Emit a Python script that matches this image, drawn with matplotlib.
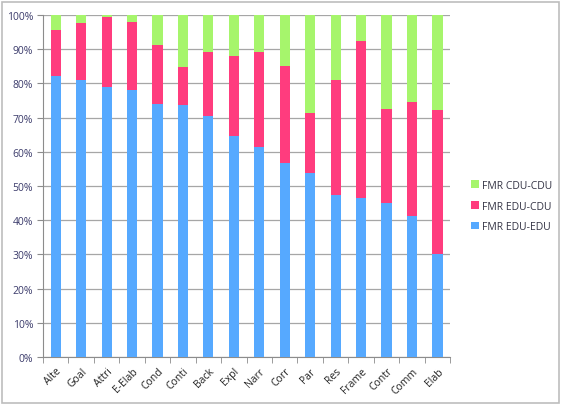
import matplotlib
matplotlib.use("Agg")
import matplotlib.pyplot as plt
import numpy as np
from matplotlib.patches import Rectangle

categories = ["Alte", "Goal", "Attri", "E-Elab", "Cond", "Conti", "Back", "Expl",
              "Narr", "Corr", "Par", "Res", "Frame", "Contr", "Comm", "Elab"]
edu_edu = [82, 81, 79, 78, 74, 73.7, 70.5, 64.5, 61.3, 56.7, 53.7, 47.5, 46.5, 45, 41.3, 30]
edu_cdu = [13.5, 16.5, 20.3, 20, 17.3, 11, 18.5, 23.5, 27.7, 28.3, 17.7, 33.5, 46, 27.5, 33.2, 42.2]
cdu_cdu = [100 - a - b for a, b in zip(edu_edu, edu_cdu)]
series_names = ["FMR EDU-EDU", "FMR EDU-CDU", "FMR CDU-CDU"]
yticks = [0, 10, 20, 30, 40, 50, 60, 70, 80, 90, 100]

plt.rcParams['font.family'] = ['Open Sans', 'DejaVu Sans']
fig = plt.figure(figsize=(5.62, 4.06), dpi=100)
fig.patches.append(Rectangle((0.003, 0.006), 0.992, 0.987, transform=fig.transFigure,
                             fill=False, edgecolor='#BDBDBD', linewidth=1.2))
ax = fig.add_axes([0.0765, 0.118, 0.7245, 0.843])

x = np.arange(len(categories))
w = 0.4
colors = ['#56A9FF', '#FF3C7E', '#A6F56C']
b1 = ax.bar(x, edu_edu, w, color=colors[0], label=series_names[0], zorder=3)
b2 = ax.bar(x, edu_cdu, w, bottom=edu_edu, color=colors[1], label=series_names[1], zorder=3)
bot = [a + b for a, b in zip(edu_edu, edu_cdu)]
b3 = ax.bar(x, cdu_cdu, w, bottom=bot, color=colors[2], label=series_names[2], zorder=3)

ax.set_xlim(-0.5, len(categories) - 0.5)
ax.set_ylim(0, 100)
ax.set_yticks(yticks)
ax.set_yticklabels([f"{t}%" for t in yticks], fontsize=7.5, color='#3B3B6B')
ax.set_xticks(x)
ax.set_xticklabels(categories, rotation=45, ha='right', rotation_mode='anchor', fontsize=7.5, color='#222222')
ax.tick_params(axis='x', which='major', length=0, pad=6)
ax.set_xticks(np.arange(-0.5, len(categories)), minor=True)
ax.tick_params(axis='x', which='minor', length=4, color='#8C8C8C', direction='out')
ax.tick_params(axis='y', length=4, color='#8C8C8C', direction='out', pad=3)
ax.grid(axis='y', color='#A6A6A6', linewidth=0.9, zorder=0)
for s in ['top', 'right']:
    ax.spines[s].set_visible(False)
for s in ['left', 'bottom']:
    ax.spines[s].set_color('#8C8C8C')

handles = [b3, b2, b1]
leg = fig.legend(handles, [series_names[2], series_names[1], series_names[0]],
                 loc='center left', bbox_to_anchor=(0.822, 0.49), frameon=False,
                 fontsize=7.5, handlelength=0.7, handleheight=0.7, handletextpad=0.3,
                 labelspacing=0.95)
for t in leg.get_texts():
    t.set_color('#333344')

fig.savefig("out.png", dpi=100)
